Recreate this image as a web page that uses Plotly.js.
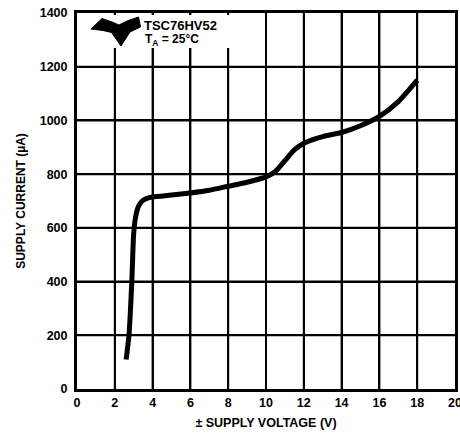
<!DOCTYPE html>
<html>
<head>
<meta charset="utf-8">
<script src="https://cdn.plot.ly/plotly-3.0.1.min.js"></script>
<style>html,body{margin:0;padding:0;background:#fff;}#chart{width:460px;height:443px;}</style>
</head>
<body>
<div id="chart"></div>
<script>
// Data
const supplyVoltage = [2.6, 2.75, 2.9, 3.0, 3.1, 3.25, 3.45, 3.7, 4, 5, 6, 7, 8, 9, 10, 10.5, 11, 11.5, 12, 13, 14, 15, 16, 17, 18];
const supplyCurrent = [110, 200, 400, 580, 640, 680, 700, 710, 715, 722, 730, 740, 755, 770, 790, 810, 850, 890, 915, 940, 955, 980, 1015, 1070, 1150];
const xTicks = [0, 2, 4, 6, 8, 10, 12, 14, 16, 18, 20];
const yTicks = [0, 200, 400, 600, 800, 1000, 1200, 1400];

const FAM = 'Liberation Sans, Arial, sans-serif';
const bold = (size) => ({family: FAM, size: size, color: '#000', weight: 'bold'});

// grid lines built from the tick arrays as a line trace
const gx = [], gy = [];
xTicks.slice(1, -1).forEach(v => { gx.push(v, v, null); gy.push(0, 1400, null); });
yTicks.slice(1, -1).forEach(v => { gx.push(0, 20, null); gy.push(v, v, null); });
const grid = {
  x: gx, y: gy, mode: 'lines', type: 'scatter', connectgaps: false,
  line: {color: '#000', width: 2}, hoverinfo: 'skip', showlegend: false, cliponaxis: true
};

const trace = {
  x: supplyVoltage, y: supplyCurrent, mode: 'lines', type: 'scatter',
  line: {color: '#000', width: 5, shape: 'spline', smoothing: 0.6},
  hoverinfo: 'skip', showlegend: false
};

// logo path in paper coordinates (converted from pixel positions)
function px(x){return (x-77)/378;}
function py(y){return (389-y)/376;}
const logoPts = [[91,29],[102,18.5],[112,22],[119,25],[127,21],[138.5,17],[140.5,27],[130,32],[121,46],[111.5,32.5],[103,30.5]];
const logoPath = 'M' + logoPts.map(p => px(p[0]).toFixed(4) + ',' + py(p[1]).toFixed(4)).join(' L') + ' Z';

const layout = {
  width: 460, height: 443,
  margin: {l: 77, r: 5, t: 13, b: 54},
  paper_bgcolor: '#fff', plot_bgcolor: '#fff',
  font: bold(12),
  xaxis: {
    range: [0, 20], tickvals: xTicks, ticktext: xTicks.map(String),
    showgrid: true, gridcolor: '#000', gridwidth: 2,
    showline: true, linecolor: '#000', linewidth: 3, mirror: true,
    zeroline: false, ticks: '', ticklabeloverflow: 'allow',
    tickfont: bold(12.5),
    title: {text: '± SUPPLY VOLTAGE (V)', font: bold(12.5), standoff: 10}
  },
  yaxis: {
    range: [0, 1400], tickvals: yTicks, ticktext: yTicks.map(String),
    showgrid: true, gridcolor: '#000', gridwidth: 2,
    showline: true, linecolor: '#000', linewidth: 3, mirror: true,
    zeroline: false, ticks: '', ticklabelstandoff: 4,
    tickfont: bold(12.5),
    title: {text: 'SUPPLY CURRENT (µA)', font: bold(12), standoff: 12}
  },
  shapes: [
    {type: 'rect', xref: 'paper', yref: 'paper', x0: px(90), x1: px(238), y0: py(48), y1: py(15), fillcolor: '#fff', line: {width: 0}, layer: 'above'},
    {type: 'path', xref: 'paper', yref: 'paper', path: logoPath, fillcolor: '#000', line: {color: '#000', width: 1}, layer: 'above'}
  ],
  annotations: [
    {xref: 'paper', yref: 'paper', x: px(142), y: py(16), xanchor: 'left', yanchor: 'top', showarrow: false,
     text: 'TSC76HV52', font: bold(13)},
    {xref: 'paper', yref: 'paper', x: px(143), y: py(30), xanchor: 'left', yanchor: 'top', showarrow: false,
     text: 'T<sub>A</sub> = 25°C', font: bold(12)}
  ]
};

Plotly.newPlot('chart', [grid, trace], layout, {displayModeBar: false, staticPlot: true});
</script>
</body>
</html>
